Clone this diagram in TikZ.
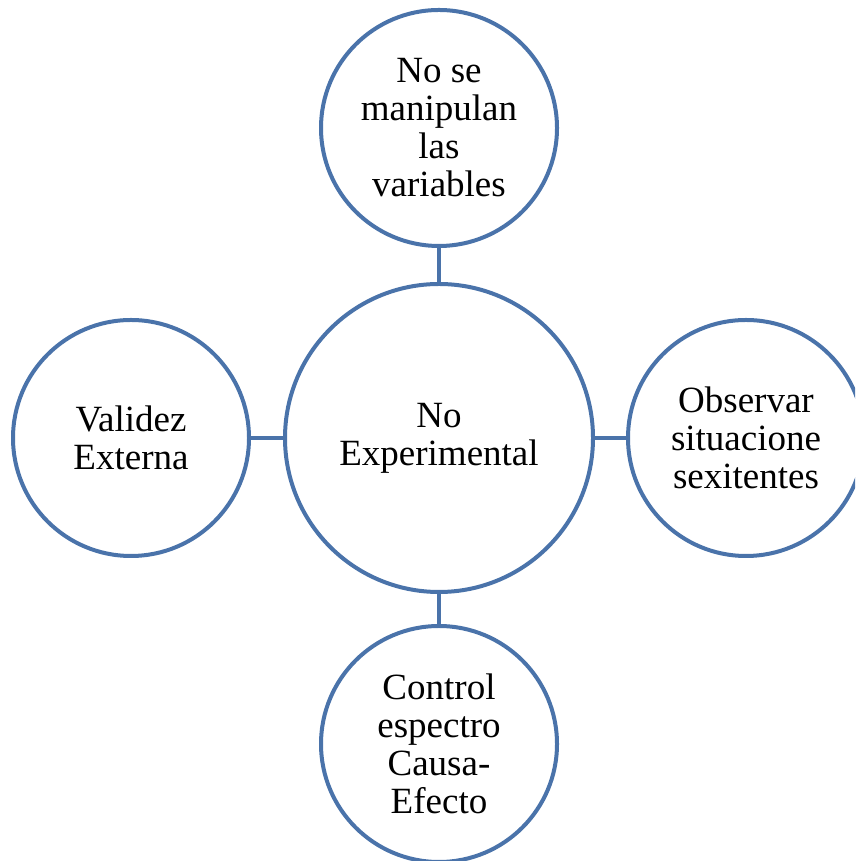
\documentclass[tikz,border=0pt]{standalone}
\usepackage{fontspec}
\setmainfont{Liberation Serif}
\definecolor{ringblue}{RGB}{74,115,170}
\begin{document}
\begin{tikzpicture}[x=1pt,y=1pt,
  ring/.style={circle,draw=ringblue,line width=4pt,inner sep=0pt,align=center,
    font=\fontsize{37}{38}\selectfont},
  small/.style={ring,minimum size=236pt},
  big/.style={ring,minimum size=308pt},
  link/.style={draw=ringblue,line width=4pt}]
\useasboundingbox (0,0) rectangle (855,861);
\clip (0,0) rectangle (855,861);
\node[big] (c) at (439,423) {No\\Experimental};
\node[small] (t) at (439,733) {No se\\manipulan\\las\\variables};
\node[small] (l) at (131,423) {Validez\\Externa};
\node[small] (r) at (746,423) {Observar\\situacione\\sexitentes};
\node[small] (b) at (439,117) {Control\\espectro\\Causa-\\Efecto};
\draw[link] (t) -- (c);
\draw[link] (l) -- (c);
\draw[link] (r) -- (c);
\draw[link] (b) -- (c);
\end{tikzpicture}
\end{document}
